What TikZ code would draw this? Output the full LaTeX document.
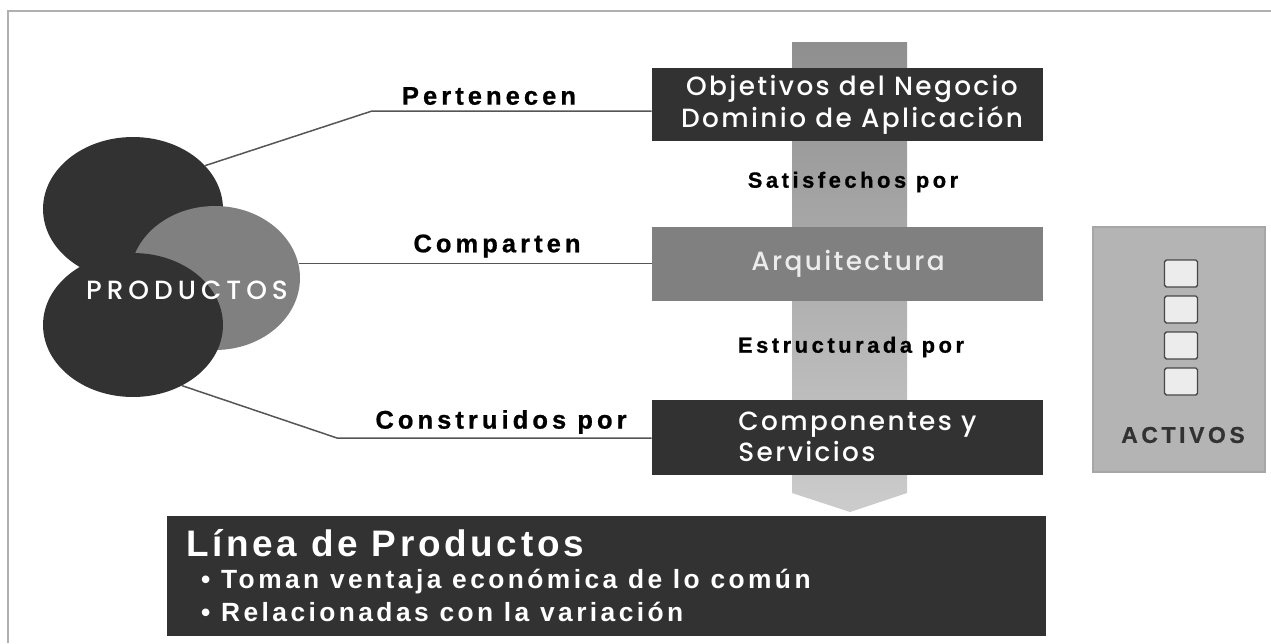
\documentclass[tikz,border=0pt]{standalone}
\usepackage{fontspec}
\setmainfont{Liberation Sans}
\newfontfamily\lblfont[LetterSpace=16, BoldFeatures={FakeBold=0.8}]{Liberation Sans}
\newfontfamily\boxfont[LetterSpace=9]{Poppins Medium}
\newfontfamily\prodfont[LetterSpace=19]{Poppins Medium}
\newfontfamily\titlefont[LetterSpace=10]{Liberation Sans}
\newfontfamily\itemfont[LetterSpace=13]{Liberation Sans}
\usetikzlibrary{shapes.geometric}

\definecolor{darkfill}{HTML}{323232}
\definecolor{midfill}{HTML}{808080}
\definecolor{activofill}{HTML}{B4B4B4}
\definecolor{linegray}{HTML}{555555}
\definecolor{framegray}{HTML}{B0B0B0}

\tikzset{
  darkbox/.style={rectangle, fill=darkfill, inner sep=0pt, minimum width=7.82cm,
    minimum height=1.47cm},
  boxtxt/.style={text=white, align=left, inner sep=0pt,
    font=\boxfont\fontsize{15}{18}\selectfont},
  prodcircle/.style={ellipse, fill=darkfill, inner sep=0pt, minimum width=3.6cm,
    minimum height=2.88cm},
  rel/.style={font=\lblfont\bfseries\fontsize{14.5}{16}\selectfont, text=black},
  relv/.style={font=\lblfont\bfseries\fontsize{12.5}{15}\selectfont, text=black},
  conn/.style={draw=linegray, line width=0.85pt},
  asset/.style={rectangle, draw=darkfill!90, fill=gray!15, line width=0.8pt,
    rounded corners=1pt, minimum width=0.66cm, minimum height=0.54cm, inner sep=0pt}
}

\begin{document}
\begin{tikzpicture}[x=0.02cm,y=-0.02cm]
  \useasboundingbox (0,0) rectangle (1271,643);
  \draw[framegray, line width=1.1pt] (8,643) -- (8,11) -- (1271,11);

  % flecha de fondo
  \shade[top color=gray!88, bottom color=gray!40]
    (792,42) -- (907,42) -- (907,493) -- (850,512) -- (792,493) -- cycle;

  \node[darkbox] (obj) at (847.5,104.5) {};
  \node[darkbox, fill=midfill, minimum height=1.48cm] (arq) at (847.5,264) {};
  \node[darkbox, minimum height=1.5cm] (comp) at (847.5,437.5) {};
  \node[boxtxt, align=center] (objtxt) at (852,105) {Objetivos del Negocio\\Dominio de Aplicación};
  \node[boxtxt, text=gray!15] (arqtxt) at (848,264) {Arquitectura};
  \node[boxtxt, anchor=west] (comptxt) at (738,437) {Componentes y\\Servicios};

  \node[relv] (satis) at (853,182) {Satisfechos por};
  \node[relv] (estru) at (851,347) {Estructurada por};

  % productos
  \node[prodcircle] (prodA) at (133,209) {};
  \node[prodcircle, fill=midfill, minimum width=3.4cm] (prodB) at (215,278) {};
  \node[prodcircle] (prodC) at (133,325) {};
  \node[text=white, font=\prodfont\fontsize{15}{17}\selectfont] (prodtxt) at (187,290) {PRODUCTOS};

  \coordinate (k1) at (372,111);
  \coordinate (k3) at (337,438);
  \draw[conn] (prodA.31) -- (k1) -- (k1 -| obj.west);
  \draw[conn] (prodB.10) -- (prodB.10 -| arq.west);
  \draw[conn] (prodC.-51) -- (k3) -- (k3 -| comp.west);
  \node[rel] (pert) at (489,96) {Pertenecen};
  \node[rel] (compa) at (497,246) {Comparten};
  \node[rel] (constr) at (501,422) {Construidos por};

  % linea de productos
  \node[darkbox, minimum width=17.58cm, minimum height=2.4cm] (linea) at (606.5,576) {};
  \node[anchor=west, text=white, font=\titlefont\bfseries\fontsize{21}{25}\selectfont]
    (lineatit) at (180,543) {Línea de Productos};
  \node[anchor=west, text=white, font=\itemfont\bfseries\fontsize{15}{18}\selectfont]
    (item1) at (195,582) {• Toman ventaja económica de lo común};
  \node[anchor=west, text=white, font=\itemfont\bfseries\fontsize{15}{18}\selectfont]
    (item2) at (195,612) {• Relacionadas con la variación};

  % activos
  \node[rectangle, draw=gray!70, fill=activofill, minimum width=3.44cm,
    minimum height=4.9cm, line width=0.8pt] (activos) at (1179,349.5) {};
  \foreach \i in {0,...,3}
    \node[asset] (a\i) at (1181,273.5+36*\i) {};
  \node[font=\lblfont\bfseries\fontsize{13}{15}\selectfont, text=darkfill] (actxt) at (1183,435) {ACTIVOS};
\end{tikzpicture}
\end{document}
